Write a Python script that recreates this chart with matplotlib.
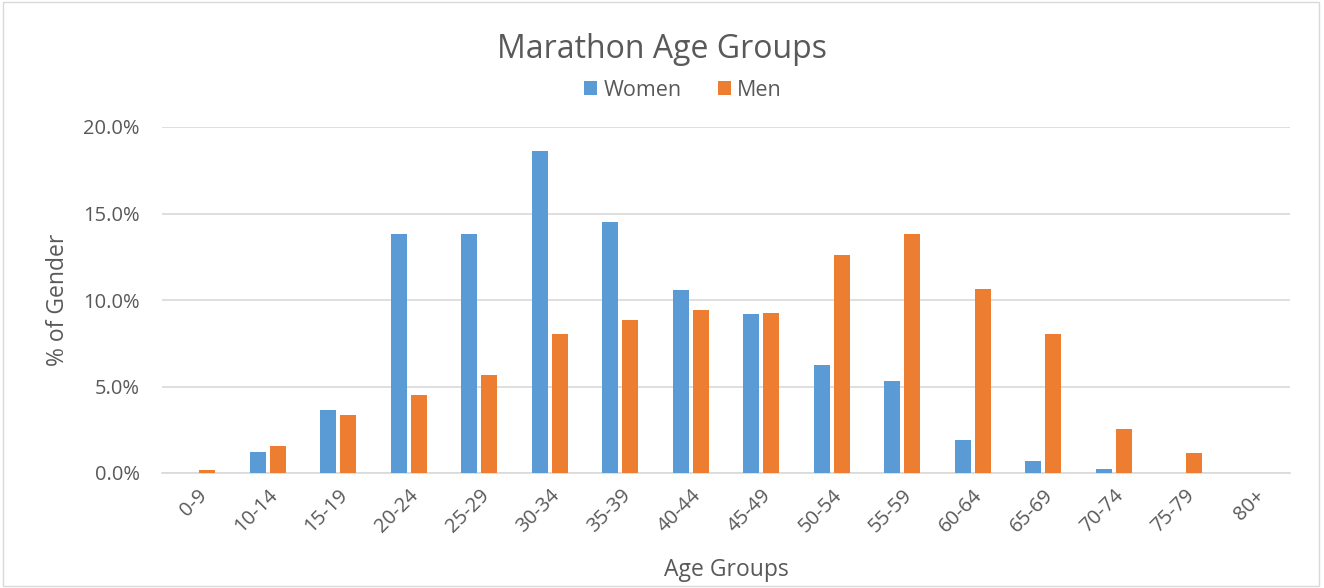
import numpy as np
import matplotlib
matplotlib.use("Agg")
import matplotlib.pyplot as plt
from matplotlib.ticker import PercentFormatter
from matplotlib.patches import Rectangle

# Data (percent of gender)
age_groups = ["0-9", "10-14", "15-19", "20-24", "25-29", "30-34", "35-39", "40-44",
              "45-49", "50-54", "55-59", "60-64", "65-69", "70-74", "75-79", "80+"]
women = [0.0, 1.19, 3.62, 13.8, 13.8, 18.6, 14.5, 10.6,
         9.19, 6.27, 5.29, 1.90, 0.71, 0.21, 0.0, 0.0]
men = [0.15, 1.56, 3.33, 4.52, 5.69, 8.06, 8.85, 9.44,
       9.25, 12.6, 13.8, 10.62, 8.06, 2.52, 1.17, 0.0]

BLUE = "#5B9BD5"
ORANGE = "#ED7D31"
TEXT = "#595959"

plt.rcParams['font.family'] = ['Open Sans', 'DejaVu Sans']

fig = plt.figure(figsize=(13.24, 5.88), dpi=100)
ax = fig.add_axes([162 / 1324, 1 - 473 / 588, (1290 - 162) / 1324, (473 - 127) / 588])

# Chart area border
fig.patches.append(Rectangle((0.002, 0.004), 0.994, 0.992, transform=fig.transFigure,
                             fill=False, edgecolor="#D9D9D9", lw=1))

x = np.arange(len(age_groups))
w = 0.227
off = w / 2 + 0.03
ax.bar(x - off, women, width=w, color=BLUE, label="Women", zorder=3)
ax.bar(x + off, men, width=w, color=ORANGE, label="Men", zorder=3)

ax.set_xlim(-0.5, len(age_groups) - 0.5)
ax.set_ylim(0, 20)
ax.set_yticks([0, 5, 10, 15, 20])
ax.yaxis.set_major_formatter(PercentFormatter(decimals=1))
ax.grid(axis="y", color="#D9D9D9", lw=1.2, zorder=0)

ax.set_xticks(x)
ax.set_xticklabels(age_groups, rotation=45, ha="right", rotation_mode="anchor")
ax.tick_params(axis="both", length=0, labelsize=14.5, labelcolor=TEXT)
ax.tick_params(axis="x", pad=9)
ax.tick_params(axis="y", pad=16)

for side in ["top", "right", "left"]:
    ax.spines[side].set_visible(False)
ax.spines["bottom"].set_color("#D9D9D9")
ax.spines["bottom"].set_linewidth(1.2)

ax.set_ylabel("% of Gender", fontsize=16.5, color=TEXT)
ax.set_xlabel("Age Groups", fontsize=16.5, color=TEXT)
ax.xaxis.set_label_coords(0.5, -(570 - 473) / 346)
ax.yaxis.set_label_coords(-(162 - 58) / 1128, 0.5)
ax.yaxis.label.set_va("center")
ax.xaxis.label.set_va("center")

fig.text(0.5, 1 - 49 / 588, "Marathon Age Groups", ha="center", va="center",
         fontsize=23, color=TEXT)
fig.legend(loc="center", bbox_to_anchor=(683 / 1324, 1 - 90 / 588), ncol=2, frameon=False,
           fontsize=15.5, labelcolor=TEXT, handlelength=0.6, handleheight=0.6,
           columnspacing=1.7, handletextpad=0.3)

fig.savefig("out.png", dpi=100)
